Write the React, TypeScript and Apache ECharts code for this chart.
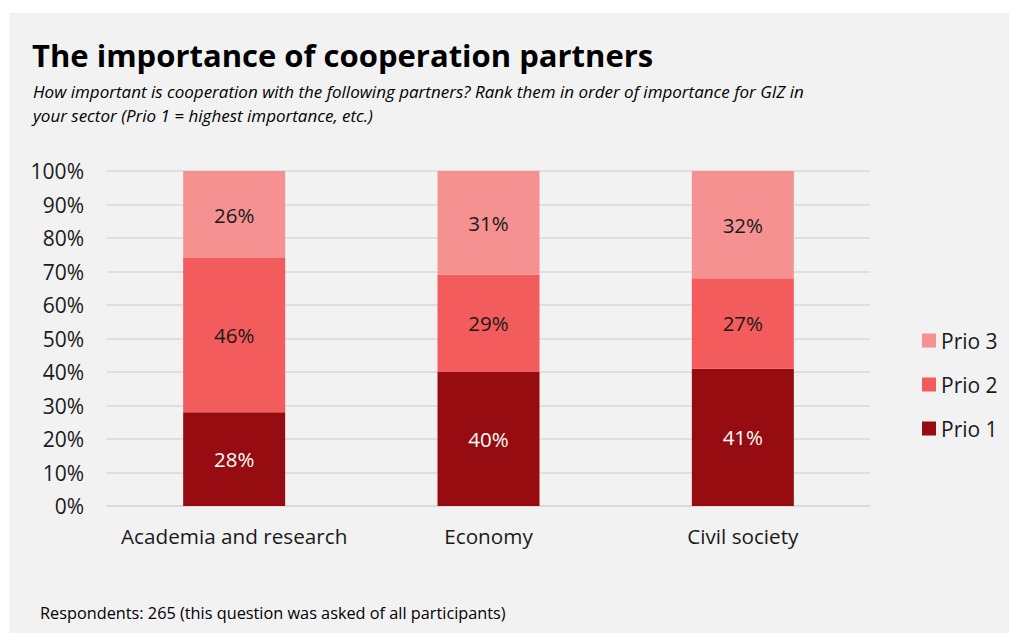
import React, { useEffect, useRef } from "react";
import * as echarts from "echarts";

const categories = ["Academia and research", "Economy", "Civil society"];
const prio1 = [28, 40, 41];
const prio2 = [46, 29, 27];
const prio3 = [26, 31, 32];
const seriesNames = ["Prio 1", "Prio 2", "Prio 3"];
const colors = ["#970c10", "#f35c5c", "#f69191"];
const labelColors = ["#ffffff", "#1a1a1a", "#1a1a1a"];

const FONT = "'Open Sans', Lato, sans-serif";

export default function App() {
  const ref = useRef<HTMLDivElement>(null);
  useEffect(() => {
    if (!ref.current) return;
    const chart = echarts.init(ref.current, null, { renderer: "svg" });
    const data = [prio1, prio2, prio3];
    chart.setOption({
      animation: false,
      backgroundColor: "#ffffff",
      textStyle: { fontFamily: FONT },
      graphic: [
        { type: "rect", z: -10, shape: { x: 9, y: 13, width: 1000, height: 620 }, style: { fill: "#f2f2f2" } },
        { type: "text", left: 32, top: 39, style: { text: "The importance of cooperation partners", font: `bold 31px ${FONT}`, fill: "#000000" } },
        { type: "text", left: 33, top: 83, style: { text: "How important is cooperation with the following partners? Rank them in order of importance for GIZ in", font: `italic 17px ${FONT}`, fill: "#000000" } },
        { type: "text", left: 33, top: 107, style: { text: "your sector (Prio 1 = highest importance, etc.)", font: `italic 17px ${FONT}`, fill: "#000000" } },
        { type: "text", left: 40, top: 605, style: { text: "Respondents: 265 (this question was asked of all participants)", font: `16.3px ${FONT}`, fill: "#000000" } },
      ],
      legend: {
        data: ["Prio 3", "Prio 2", "Prio 1"],
        orient: "vertical",
        left: 917,
        top: 325,
        itemWidth: 14,
        itemHeight: 14,
        itemGap: 23,
        icon: "rect",
        textStyle: { fontSize: 21, color: "#1a1a1a", fontFamily: FONT },
      },
      grid: { left: 107, top: 171, width: 763, height: 335, containLabel: false },
      xAxis: {
        type: "category",
        data: categories,
        axisLine: { show: true, lineStyle: { color: "#d9d9d9", width: 1.5 } },
        axisTick: { show: false },
        axisLabel: { fontSize: 20.7, color: "#1a1a1a", margin: 19, interval: 0, fontFamily: FONT },
      },
      yAxis: {
        type: "value",
        min: 0,
        max: 100,
        interval: 10,
        axisLine: { show: false },
        axisTick: { show: false },
        axisLabel: { fontSize: 21, color: "#1a1a1a", margin: 23, formatter: "{value}%", fontFamily: FONT },
        splitLine: { lineStyle: { color: "#d9d9d9", width: 1.5 } },
      },
      series: seriesNames.map((name, i) => ({
        name,
        type: "bar",
        stack: "total",
        barWidth: 102,
        data: data[i],
        itemStyle: { color: colors[i] },
        label: {
          show: true,
          position: "inside",
          formatter: "{c}%",
          fontSize: 20.5,
          color: labelColors[i],
          fontFamily: FONT,
        },
      })),
    });
    return () => chart.dispose();
  }, []);
  return <div ref={ref} style={{ position: "absolute", left: 0, top: 0, width: 1009, height: 633 }} />;
}
